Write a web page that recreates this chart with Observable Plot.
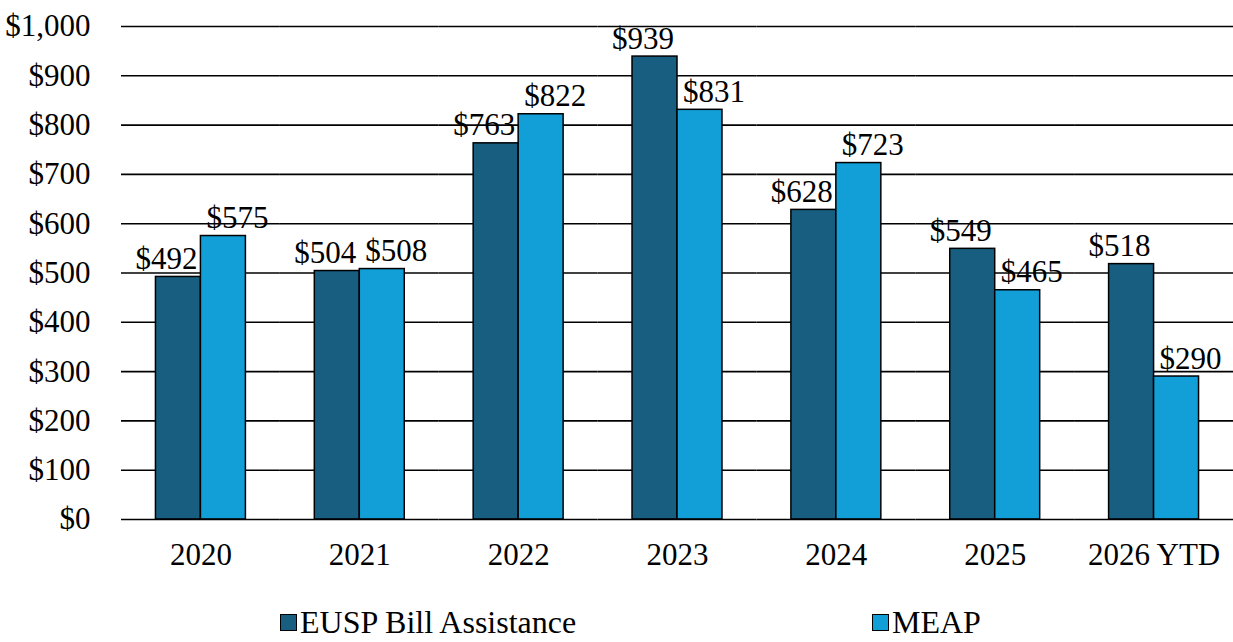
<!DOCTYPE html>
<html>
<head>
<meta charset="utf-8">
<script src="https://cdn.jsdelivr.net/npm/d3@7"></script>
<script src="https://cdn.jsdelivr.net/npm/@observablehq/plot@0.6"></script>
<style>
  html, body { margin: 0; padding: 0; background: #fff; }
  #chart { position: relative; width: 1233px; font-family: "Liberation Serif", "Times New Roman", serif; }
  #legend { position: relative; height: 67px; font-size: 32px; color: #000; }
  .item { position: absolute; top: 30px; display: flex; align-items: center; line-height: 34px; }
  .sw { width: 15px; height: 15px; border: 1.5px solid #000; margin-right: 3px; }
</style>
</head>
<body>
<div id="chart"></div>
<script>
const years = ["2020", "2021", "2022", "2023", "2024", "2025", "2026 YTD"];
const seriesNames = ["EUSP Bill Assistance", "MEAP"];
const euspValues = [492, 504, 763, 939, 628, 549, 518];
const meapValues = [575, 508, 822, 831, 723, 465, 290];
const colors = ["#185E80", "#129FD7"];
const yTicks = [0, 100, 200, 300, 400, 500, 600, 700, 800, 900, 1000];

const data = [];
years.forEach((y, i) => {
  data.push({year: y, series: seriesNames[0], value: euspValues[i]});
  data.push({year: y, series: seriesNames[1], value: meapValues[i]});
});

const fmt = d3.format("$,");

const labelOpts = {fx: "year", x: "series", y: "value", text: d => fmt(d.value), dy: -8,
  fill: "#000", fontSize: 31, lineAnchor: "bottom", textAnchor: "middle"};

const chart = Plot.plot({
  width: 1233,
  height: 575,
  marginTop: 26,
  marginBottom: 56,
  marginLeft: 121,
  marginRight: 0,
  style: {fontFamily: "Liberation Serif, Times New Roman, serif", fontSize: "31px", color: "#000", background: "#fff", overflow: "visible"},
  fx: {domain: years, padding: 0, round: false, label: null, tickSize: 0, tickPadding: 23},
  x: {domain: seriesNames, paddingInner: 0, paddingOuter: 0.766, round: false, axis: null},
  y: {domain: [0, 1000], ticks: yTicks, tickFormat: fmt, tickSize: 0, tickPadding: 31, label: null},
  color: {domain: seriesNames, range: colors},
  marks: [
    Plot.ruleY(yTicks.slice(1), {stroke: "#000", strokeWidth: 1.6}),
    Plot.barY(data, {fx: "year", x: "series", y: "value", fill: "series", stroke: "#000", strokeWidth: 1.5}),
    Plot.text(data.filter(d => d.series === seriesNames[0]), {...labelOpts, dx: -12}),
    Plot.text(data.filter(d => d.series === seriesNames[1]), {...labelOpts, dx: 14}),
    Plot.ruleY([0], {stroke: "#000", strokeWidth: 1.6}),
    Plot.ruleX([0], {stroke: "#000", strokeWidth: 1.6, frameAnchor: "left", facetAnchor: "left"})
  ]
});

document.getElementById("chart").appendChild(chart);

const legend = document.createElement("div");
legend.id = "legend";
const positions = [280, 872];
seriesNames.forEach((s, i) => {
  const item = document.createElement("div");
  item.className = "item";
  item.style.left = positions[i] + "px";
  const sw = document.createElement("div");
  sw.className = "sw";
  sw.style.background = colors[i];
  const t = document.createElement("span");
  t.textContent = s;
  item.appendChild(sw);
  item.appendChild(t);
  legend.appendChild(item);
});
document.getElementById("chart").appendChild(legend);
</script>
</body>
</html>
